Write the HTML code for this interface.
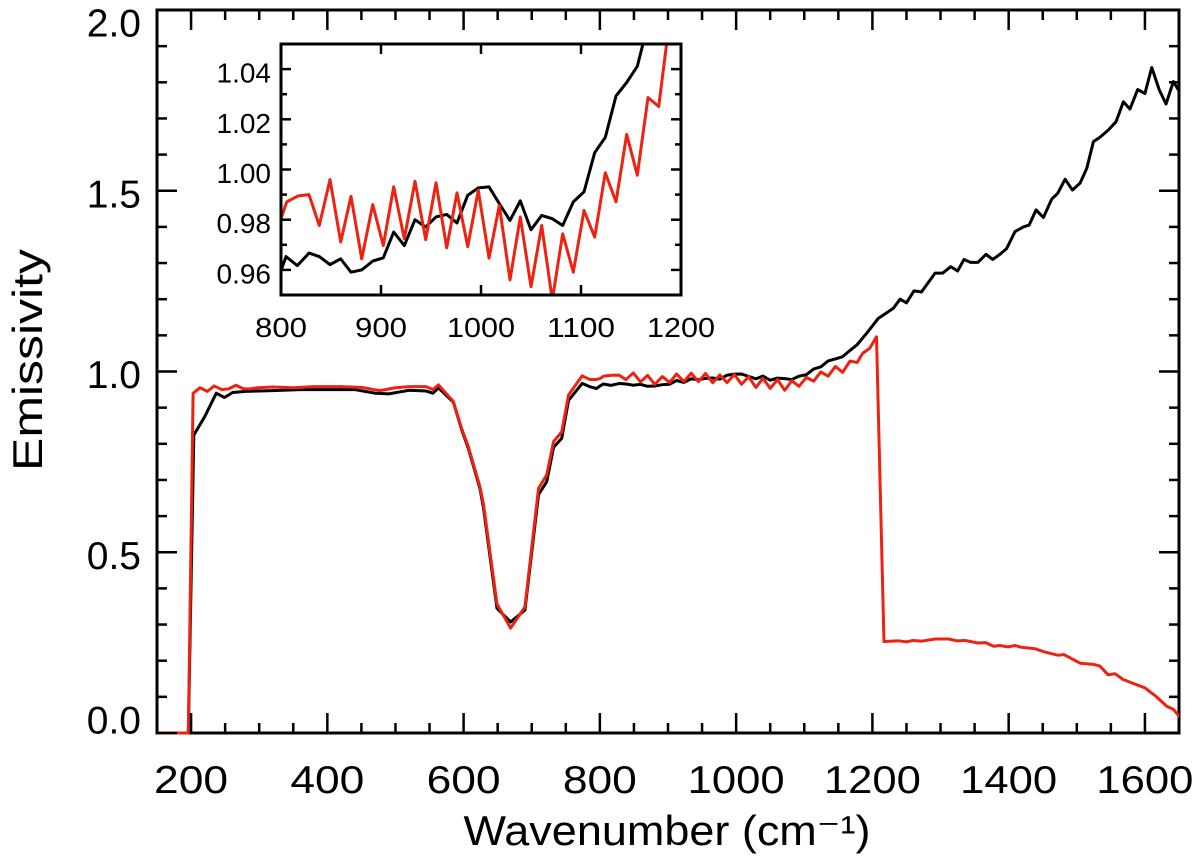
<!DOCTYPE html>
<html><head><meta charset="utf-8"><style>
html,body{margin:0;padding:0;background:#fff;width:1200px;height:860px;overflow:hidden;}
svg{display:block;font-family:"Liberation Sans",sans-serif;}
</style></head><body>
<svg id="chart" width="1200" height="860" viewBox="0 0 1200 860">
<defs>
<clipPath id="mainClip"><rect x="157" y="10" width="1022" height="725"/></clipPath>
<clipPath id="insetClip"><rect x="281" y="44" width="400" height="251"/></clipPath>
</defs>
<g id="main"></g>
<g id="inset"></g>
</svg>
<script>
const blackX = [150,196,204,220,237,249,261,280,320,360,400,440,470,490,520,545,555,563,585,597,607,624,629,649,669,690,710,722,732,744,754,774,785,795,
800,805,816.3,828,838.3,849,859.7,870,880.7,891.7,902.3,912.7,923.3,934,944.7,955,965.7,976,986.7,997.3,1008,1018.3,1029,1039.3,1050,1060.7,1071.3,1081.7,1092.3,1103,1113.7,1124.3,1135,1145.7,1156.3,1167,
1177,1191.7,1208.7,1230.8,1240.6,1250,1261,1272,1292,1303,1315,1325,1334.5,1344,1355,1366.8,1376.6,1387,1397,1409.4,1421.6,1430,1440.2,1451,1463.2,1472,1482.8,1493.6,1504.8,1514.6,1524.4,1534,1546.3,1557.6,1568.4,1578,1589.4,1600,1610,1621,1631,1641.7,1652];
const blackY = [0,0,0.824,0.875,0.94,0.928,0.942,0.945,0.947,0.95,0.95,0.95,0.94,0.938,0.948,0.946,0.94,0.955,0.915,0.84,0.787,0.676,0.625,0.345,0.307,0.34,0.66,0.695,0.79,0.815,0.92,0.967,0.958,0.953,
0.9597,0.9653,0.9617,0.9667,0.9653,0.9621,0.9644,0.9591,0.96,0.9635,0.9648,0.9751,0.9697,0.98,0.9771,0.9811,0.9821,0.9787,0.9897,0.9927,0.9931,0.9864,0.9797,0.9875,0.976,0.9817,0.9804,0.9777,0.9871,0.9911,1.0067,1.0128,1.0293,1.0347,1.0411,1.058,
1.073,1.106,1.147,1.175,1.2,1.19,1.223,1.22,1.272,1.272,1.29,1.278,1.31,1.302,1.302,1.324,1.31,1.324,1.34,1.387,1.40,1.405,1.447,1.426,1.477,1.493,1.532,1.502,1.521,1.562,1.636,1.648,1.668,1.691,1.746,1.726,1.78,1.769,1.841,1.779,1.74,1.802,1.77];
const redX = [150,196,203,213,224,234,245,255,266,277,287,298,320,350,380,420,450,477,500,520,545,555,563,585,597,607,624,629,649,669,690,710,722,732,744,754,774,785,795,
800,805.7,817.3,828,838.3,849,859.7,870,880.7,891.7,902.3,912.7,923.3,934,944.7,955,965.7,976,986.7,997.3,1008,1018.3,1029,1039.3,1050,1060.7,1071.3,1081.7,1092.3,1103,1113.7,1124.3,1135,1145.7,1156.3,1167,1177.7,1185.7,
1196,1206,1217,1238,1250,1260,1272,1292,1312,1324,1336,1355,1366,1378,1387,1399,1409,1419,1439,1453,1466,1473,1481,1505,1524,1534,1546,1556,1568,1583,1600,1617,1632,1642,1652];
const redY = [0,0,0.94,0.955,0.945,0.96,0.95,0.952,0.962,0.952,0.952,0.955,0.957,0.955,0.958,0.958,0.956,0.947,0.955,0.958,0.958,0.95,0.963,0.917,0.843,0.792,0.681,0.635,0.357,0.29,0.349,0.677,0.714,0.806,0.833,0.935,0.988,0.978,0.978,
0.9804,0.9871,0.9895,0.990,0.9777,0.996,0.9711,0.9893,0.9644,0.986,0.9697,0.9931,0.9724,0.9953,0.972,0.9947,0.9688,0.9907,0.9693,0.9917,0.9647,0.9857,0.956,0.9811,0.9533,0.9777,0.948,0.9744,0.9591,0.9837,0.9731,0.9987,0.9871,1.014,0.9977,1.0287,1.0251,1.0504,
1.064,1.096,0.253,0.255,0.252,0.256,0.254,0.26,0.26,0.255,0.256,0.249,0.25,0.24,0.242,0.238,0.242,0.237,0.233,0.224,0.218,0.215,0.217,0.193,0.19,0.185,0.161,0.164,0.148,0.137,0.125,0.10,0.074,0.065,0.042];
const mainXTicks = [200,400,600,800,1000,1200,1400,1600];
const mainXTickLabels = ["200","400","600","800","1000","1200","1400","1600"];
const mainYTicks = [0,0.5,1.0,1.5,2.0];
const mainYTickLabels = ["0.0","0.5","1.0","1.5","2.0"];
const insetXTicks = [800,900,1000,1100,1200];
const insetXTickLabels = ["800","900","1000","1100","1200"];
const insetYTicks = [0.96,0.98,1.00,1.02,1.04];
const insetYTickLabels = ["0.96","0.98","1.00","1.02","1.04"];

const NS = "http://www.w3.org/2000/svg";
function mk(parent, tag, attrs){ const e=document.createElementNS(NS,tag); for(const k in attrs) e.setAttribute(k,attrs[k]); parent.appendChild(e); return e; }
function scale(d0,d1,r0,r1){ return v => r0 + (v-d0)/(d1-d0)*(r1-r0); }

function drawAxes(g, cfg){
  const {L,R,T,B,xs,ys,xMin,xMax,yMin,yMax,xMinor,yMinor,xT,xTL,yT,yTL,fs,maj,min,xLabY,yLabX,name,yClamp,xW4,xW3} = cfg;
  for(let v=Math.ceil(xMin/xMinor)*xMinor; v<=xMax+1e-9; v+=xMinor){
    const isMaj = xT.some(t=>Math.abs(t-v)<1e-6); const len=isMaj?maj:min; const x=xs(v);
    const t1=mk(g,'line',{x1:x,y1:B,x2:x,y2:B-len,stroke:'#000','stroke-width':2.5});
    
    
    const t2=mk(g,'line',{x1:x,y1:T,x2:x,y2:T+len,stroke:'#000','stroke-width':2.5});
    
    
  }
  for(let i=Math.round(yMin/yMinor); i*yMinor<=yMax+1e-9; i++){
    const v=i*yMinor; const isMaj = yT.some(t=>Math.abs(t-v)<1e-6); const len=isMaj?maj:min; const y=ys(v);
    const t1=mk(g,'line',{x1:L,y1:y,x2:L+len,y2:y,stroke:'#000','stroke-width':2.5});
    
    
    const t2=mk(g,'line',{x1:R,y1:y,x2:R-len,y2:y,stroke:'#000','stroke-width':2.5});
    
    
  }
  xT.forEach((v,i)=>{
    const lab=xTL[i];
    const t=mk(g,'text',{x:xs(v),y:xLabY,'text-anchor':'middle','font-size':fs,textLength:(lab.length>3?xW4:xW3),lengthAdjust:'spacingAndGlyphs'});
    t.textContent=lab;
    
    
  });
  yT.forEach((v,i)=>{
    let cy = ys(v)+4; cy=Math.max(yClamp[0],Math.min(yClamp[1],cy));
    const t=mk(g,'text',{x:yLabX,y:cy,'text-anchor':'end','dominant-baseline':'central','font-size':fs});
    t.textContent=yTL[i];
    
    
  });
}
function drawLine(g, xs, ys, X, Y, color, w, clip, nm){
  const n=Math.min(X.length,Y.length);
  let d=''; for(let i=0;i<n;i++) d+=(i?'L':'M')+xs(X[i]).toFixed(2)+','+ys(Y[i]).toFixed(2);
  const p=mk(g,'path',{d:d,fill:'none',stroke:color,'stroke-width':w,'stroke-linejoin':'round','clip-path':'url(#'+clip+')'});
  
  
}

const gm=document.getElementById('main');
const mL=157,mR=1179,mT=10,mB=733;
const mxs=scale(150,1650,mL,mR), mys=scale(0,2.0,mB,mT);
const mf=mk(gm,'rect',{x:mL,y:mT,width:mR-mL,height:mB-mT,fill:'none',stroke:'#000','stroke-width':3});


drawLine(gm,mxs,mys,blackX,blackY,'#000',3,'mainClip','black-series-line');
drawLine(gm,mxs,mys,redX,redY,'#ee2211',3,'mainClip','red-series-line');
drawAxes(gm,{L:mL,R:mR,T:mT,B:mB,xs:mxs,ys:mys,xMin:150,xMax:1650,yMin:0,yMax:2,xMinor:50,yMinor:0.1,xT:mainXTicks,xTL:mainXTickLabels,yT:mainYTicks,yTL:mainYTickLabels,fs:39,maj:20,min:10,xLabY:793,yLabX:141,name:'main',yClamp:[24,721],xW3:74,xW4:97});
const xl=mk(gm,'text',{x:667,y:845,'text-anchor':'middle','font-size':42,textLength:407,lengthAdjust:'spacingAndGlyphs'});
xl.textContent='Wavenumber (cm⁻¹)';


const yl=mk(gm,'text',{x:0,y:0,'text-anchor':'middle','font-size':42,textLength:222,lengthAdjust:'spacingAndGlyphs',transform:'translate(42,360) rotate(-90)'});
yl.textContent='Emissivity';



const gi=document.getElementById('inset');
const iL=281,iR=681,iT=44,iB=295;
const ixs=scale(800,1200,iL,iR), iys=scale(0.95,1.05,iB,iT);
const bg=mk(gi,'rect',{x:iL,y:iT,width:iR-iL,height:iB-iT,fill:'#fff'});


drawLine(gi,ixs,iys,blackX,blackY,'#000',3,'insetClip','inset-black-series-line');
drawLine(gi,ixs,iys,redX,redY,'#ee2211',3,'insetClip','inset-red-series-line');
const inf=mk(gi,'rect',{x:iL,y:iT,width:iR-iL,height:iB-iT,fill:'none',stroke:'#000','stroke-width':3});


drawAxes(gi,{L:iL,R:iR,T:iT,B:iB,xs:ixs,ys:iys,xMin:800,xMax:1200,yMin:0.95,yMax:1.05,xMinor:100,yMinor:0.01,xT:insetXTicks,xTL:insetXTickLabels,yT:insetYTicks,yTL:insetYTickLabels,fs:28,maj:10,min:6,xLabY:337,yLabX:271,name:'inset',yClamp:[0,1000],xW3:52,xW4:68});
</script>
</body></html>
